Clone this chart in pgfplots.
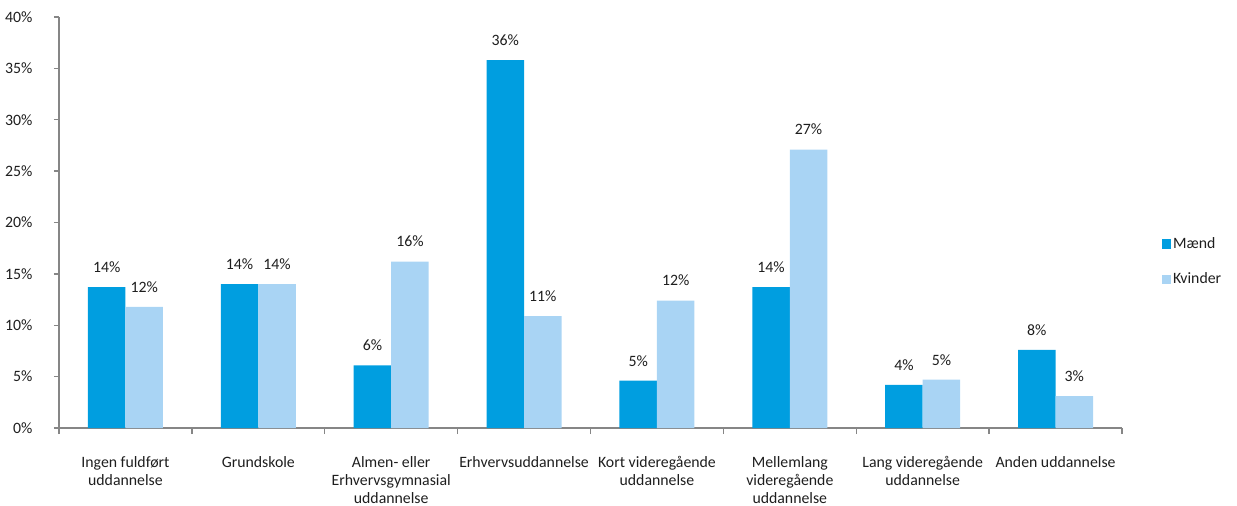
\documentclass[border=0pt]{standalone}
\usepackage{pgfplots}
\pgfplotsset{compat=1.18}
\usepackage{fontspec}
\setmainfont{Carlito}
\definecolor{maend}{RGB}{0,158,224}
\definecolor{kvinder}{RGB}{169,212,244}
\definecolor{axgray}{RGB}{134,134,134}
\definecolor{txt}{RGB}{30,30,30}
\newcommand{\fs}{\fontsize{15.8}{18.2}\selectfont}
\begin{document}
\begin{tikzpicture}
\fs
\begin{axis}[
  scale only axis,
  width=1063pt, height=411pt,
  xmin=-0.5, xmax=7.5, ymin=0, ymax=40,
  axis x line*=bottom, axis y line*=left,
  axis line style={draw=axgray, line width=1.4pt},
  every tick/.style={draw=axgray, line width=1.4pt},
  tick align=outside,
  ytick={0,5,...,40},
  yticklabel={\pgfmathprintnumber{\tick}\%},
  /pgf/number format/assume math mode=true,
  major tick length=5pt,
  xtick={0,...,7},
  major x tick style={draw=none},
  minor xtick={-0.5,0.5,...,7.5},
  minor tick length=6pt,
  xticklabels={Ingen fuldført\\uddannelse, Grundskole, Almen- eller\\Erhvervsgymnasial\\uddannelse, Erhvervsuddannelse, Kort videregående\\uddannelse, Mellemlang\\videregående\\uddannelse, Lang videregående\\uddannelse, Anden uddannelse},
  xticklabel style={align=center, font=\fs, text=txt, yshift=-18pt},
  yticklabel style={font=\fs, text=txt, xshift=-16pt},
  ybar=0pt, bar width=37.5pt,
  nodes near coords={\pgfmathprintnumber[fixed,precision=0]{\pgfplotspointmeta}\%},
  nodes near coords style={font=\fs, text=txt, anchor=south, yshift=9pt},
  legend style={at={(1.037,0.404)}, anchor=west, draw=none, fill=none,
    font=\fs, text=txt, row sep=18pt, inner sep=0pt},
  legend cell align=left,
  legend image code/.code={\fill[#1] (0pt,-4.5pt) rectangle (9.5pt,5pt);},
  clip=false,
]
\addplot[fill=maend, draw=none] coordinates {(0,13.7) (1,14.0) (2,6.1) (3,35.8) (4,4.6) (5,13.7) (6,4.2) (7,7.6)};
\addplot[fill=kvinder, draw=none] coordinates {(0,11.8) (1,14.0) (2,16.2) (3,10.9) (4,12.4) (5,27.1) (6,4.7) (7,3.1)};
\legend{Mænd, Kvinder}
\coordinate (O) at (rel axis cs:0,0);
\end{axis}
\pgfresetboundingbox
\path[use as bounding box] (O) ++(-59pt,-78pt) rectangle ++(1237pt,506pt);
\end{tikzpicture}
\end{document}
